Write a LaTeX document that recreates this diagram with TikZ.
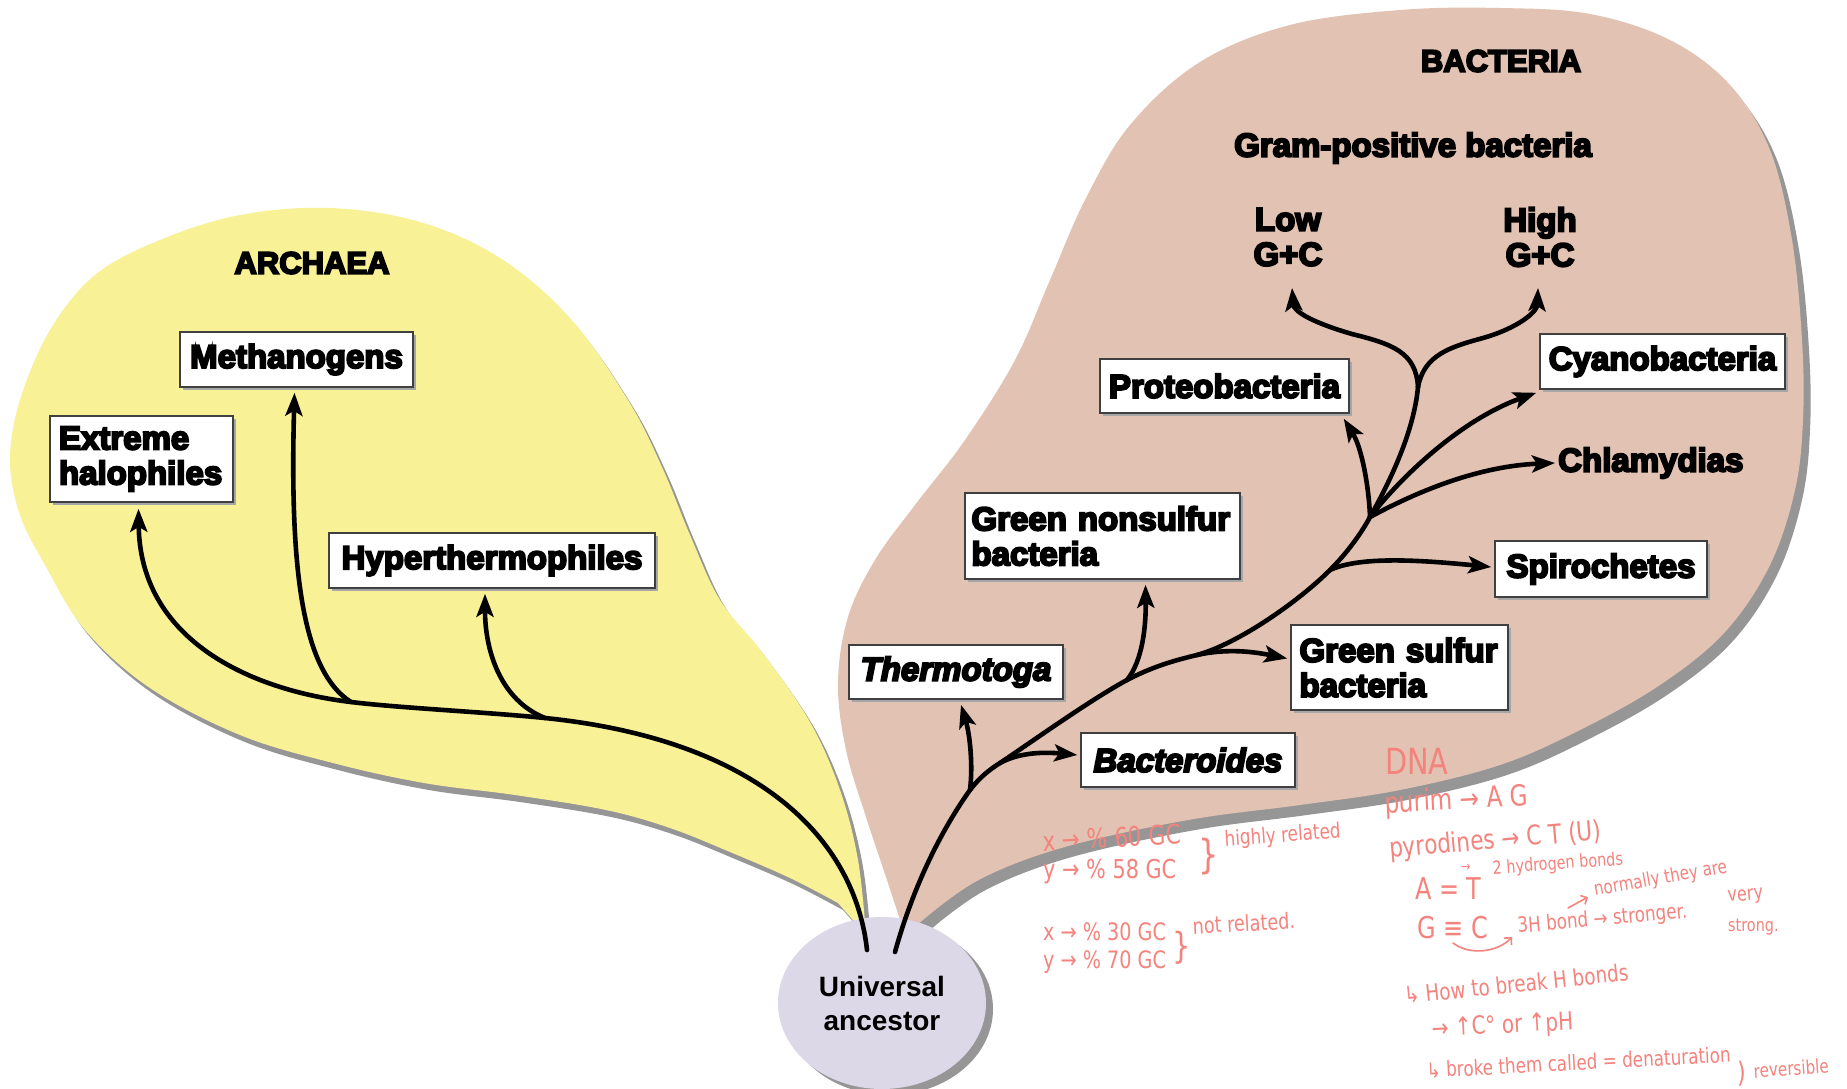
\documentclass[tikz,border=0pt]{standalone}
\usepackage{fontspec}
\usetikzlibrary{arrows.meta,calc,shapes.geometric,shadows}

\newfontfamily\heavysans{Liberation Sans}[UprightFont={* Bold}, ItalicFont={* Bold Italic}, FakeBold=6]
\newfontfamily\plainsans{Liberation Sans}
\newfontfamily\handfont{DejaVu Sans}[FakeStretch=0.8]

\definecolor{archaeafill}{RGB}{249,241,150}
\definecolor{bacteriafill}{RGB}{226,194,178}
\definecolor{ancestorfill}{RGB}{221,216,232}
\definecolor{lobeshadow}{RGB}{150,150,150}
\definecolor{ink}{RGB}{244,131,125}

\newcommand\boxfont{\heavysans\fontsize{33}{35}\selectfont}
\newcommand\domainfont{\heavysans\fontsize{31}{33}\selectfont}
\newcommand\ancestorfont{\plainsans\bfseries\fontsize{28}{34}\selectfont}

% outline of the Archaea lobe
\newcommand\archaealobe[1]{%
  \fill[#1] plot[smooth, tension=0.6] coordinates {
    (866,935) (858,860) (840,790) (810,722) (762,652) (720,600) (690,535)
    (662,467) (628,400) (570,318) (500,258) (420,222) (330,208) (240,215)
    (160,240) (95,275) (50,330) (20,400) (10,460) (20,515) (45,565) (85,630)
    (150,688) (240,735) (333,763) (424,783) (515,795) (606,810) (670,828)
    (730,852) (790,878) (838,903)} -- cycle;}

% outline of the Bacteria lobe
\newcommand\bacterialobe[1]{%
  \fill[#1] plot[smooth, tension=0.6] coordinates {
    (905,935) (887,880) (866,817) (846,750) (838,683) (848,617) (875,560)
    (915,505) (965,440) (1015,360) (1050,280) (1085,200) (1130,125)
    (1200,62) (1290,25) (1400,10) (1500,8) (1590,14) (1670,40) (1730,85)
    (1770,150) (1792,240) (1802,340) (1803,420) (1795,490) (1770,565)
    (1725,632) (1660,685) (1580,730) (1500,765) (1400,790) (1300,805)
    (1200,818) (1100,838) (1030,858) (975,882) (935,910)} -- cycle;}

\begin{document}
\begin{tikzpicture}[x=1pt,y=-1pt,
  limb/.style={line width=4.6pt, line cap=round, black},
  arrowed/.style={limb, -{Stealth[length=23pt,width=17pt,inset=5pt]}},
  taxon/.style={draw=black!75, line width=1.5pt, fill=white, inner sep=0pt,
    font=\boxfont,
    general shadow={fill=black!35, shadow xshift=2.5pt, shadow yshift=-2.5pt}},
  plainlabel/.style={font=\boxfont, inner sep=0pt},
  domaintitle/.style={font=\domainfont, inner sep=0pt},
  note/.style={text=ink, inner sep=0pt, anchor=base west,
    font={\handfont\fontsize{#1}{#1}\selectfont}},
  note/.default=20,
  inkline/.style={draw=ink, line width=1.6pt, line cap=round},
]
\useasboundingbox (0,0) rectangle (1847,1088);
\fill[white] (0,0) rectangle (1847,1088);

% lobes with their grey shadows
\archaealobe{lobeshadow, shift={(5,7)}}
\bacterialobe{lobeshadow, shift={(7,10)}}
\archaealobe{archaeafill}
\bacterialobe{bacteriafill}

% universal ancestor
\node[ellipse, fill=ancestorfill, minimum width=208, minimum height=172,
      inner sep=0pt, align=center, font=\ancestorfont,
      general shadow={fill=lobeshadow, shadow xshift=7pt, shadow yshift=-6pt}]
      (anc) at (882,1003) {Universal\\ancestor};

% domain titles and group labels
\node[domaintitle] (archaea) at (312,263) {ARCHAEA};
\node[domaintitle] (bacteria) at (1501,61) {BACTERIA};
\node[plainlabel] (gram) at (1413,148) {Gram-positive bacteria};
\node[plainlabel, align=center] (low) at (1288,237) {Low\\G+C};
\node[plainlabel, align=center] (high) at (1540,237) {High\\G+C};
\node[plainlabel, anchor=west] (chla) at (1558,463) {Chlamydias};

% taxon boxes
\node[taxon, minimum width=183, minimum height=86, text width=165, align=left]
  (hal) at (141.5,459) {Extreme\\halophiles};
\node[taxon, minimum width=233, minimum height=55] (meth) at (296.5,359.5) {Methanogens};
\node[taxon, minimum width=326, minimum height=55] (hyp) at (492,560.5) {Hyperthermophiles};
\node[taxon, minimum width=249, minimum height=54] (proteo) at (1224.5,386) {Proteobacteria};
\node[taxon, minimum width=245, minimum height=55] (cyano) at (1662.5,361.5) {Cyanobacteria};
\node[taxon, minimum width=275, minimum height=86, text width=262, align=left]
  (gn) at (1102.5,536) {Green nonsulfur\\bacteria};
\node[taxon, minimum width=212, minimum height=56] (spiro) at (1601,569) {Spirochetes};
\node[taxon, minimum width=217, minimum height=85, text width=200, align=left]
  (gs) at (1399.5,667.5) {Green sulfur\\bacteria};
\node[taxon, minimum width=214, minimum height=54] (thermo) at (956,672) {\itshape Thermotoga};
\node[taxon, minimum width=214, minimum height=54] (bact) at (1188,760) {\itshape Bacteroides};

% branch points
\coordinate (aBase) at (867,950);
\coordinate (jH) at (545,718);
\coordinate (jM) at (351,702);
\coordinate (bBase) at (895,952);
\coordinate (jT) at (970,790);
\coordinate (jBd) at (1000,763);
\coordinate (jGN) at (1127,680);
\coordinate (jGS) at (1197,655);
\coordinate (jSp) at (1330,570);
\coordinate (hub) at (1370,517);
\coordinate (fork) at (1418,387);

% Archaea tree
\draw[arrowed] (aBase) .. controls (855,840) and (760,740) .. (jH)
  .. controls (485,712) and (400,708) .. (jM)
  .. controls (250,690) and (140,640) .. ($(hal.south)+(-3,6)$);
\draw[arrowed] (jM) .. controls (300,670) and (290,560) .. ($(meth.south)+(-2,5)$);
\draw[arrowed] (jH) .. controls (500,700) and (485,650) .. ($(hyp.south)+(-7,5)$);

% Bacteria tree
\draw[limb] (bBase) .. controls (915,880) and (945,825) .. (jT)
  .. controls (980,777) and (989,770) .. (jBd)
  .. controls (1030,743) and (1090,700) .. (jGN)
  .. controls (1152,667) and (1172,661) .. (jGS)
  .. controls (1240,643) and (1300,600) .. (jSp)
  .. controls (1348,552) and (1362,532) .. (hub);
\draw[arrowed] (jT) .. controls (973,765) and (970,735) .. ($(thermo.south)+(5,5)$);
\draw[arrowed] (jBd) .. controls (1020,752) and (1045,752) .. ($(bact.west)+(-3,-5)$);
\draw[arrowed] (jGN) .. controls (1143,660) and (1146,625) .. ($(gn.south)+(43,5)$);
\draw[arrowed] (jGS) .. controls (1228,648) and (1255,652) .. ($(gs.west)+(-3,-9)$);
\draw[arrowed] (jSp) .. controls (1360,556) and (1420,560) .. ($(spiro.west)+(-3,-2)$);
\draw[arrowed] (hub) .. controls (1420,490) and (1480,466) .. ($(chla.west)+(-3,0)$);
\draw[arrowed] (hub) .. controls (1400,478) and (1460,420) .. ($(cyano.south west)+(-3,3)$);
\draw[arrowed] (hub) .. controls (1369,488) and (1362,448) .. ($(proteo.south east)+(-6,5)$);
\draw[limb] (hub) .. controls (1392,478) and (1414,430) .. (fork);
\draw[arrowed] (fork) .. controls (1416,352) and (1392,344) .. (1352,334)
  .. controls (1314,323) and (1294,312) .. ($(low.center)+(4,51)$);
\draw[arrowed] (fork) .. controls (1424,355) and (1450,347) .. (1483,338)
  .. controls (1518,328) and (1537,312) .. ($(high.center)+(-2,51)$);

% handwritten notes: G+C content
\node[note=27, rotate=3] (gc1) at (1043,851) {x → \% 60 GC};
\node[note=26] (gc2) at (1043,878) {y → \% 58 GC};
\node[note=40] (br1) at (1198,868) {\}};
\node[note=21, rotate=4] (rel1) at (1225,846) {highly related};
\node[note=24] (gc3) at (1043,940) {x → \% 30 GC};
\node[note=24] (gc4) at (1043,968) {y → \% 70 GC};
\node[note=36] (br2) at (1172,958) {\}};
\node[note=22, rotate=3] (rel2) at (1193,934) {not related.};

% handwritten notes: DNA
\node[note=36] (dna) at (1385,774) {DNA};
\node[note=29, rotate=3] (pur) at (1385,813) {purim → A G};
\node[note=27, rotate=5] (pyr) at (1390,858) {pyrodines → C T (U)};
\node[note=30] (at) at (1415,899) {A = T};
\node[note=14] (atarrow) at (1461,871) {→};
\node[note=18, rotate=4] (hb2) at (1493,874) {2 hydrogen bonds};
\node[note=30] (gc) at (1417,938) {G ≡ C};
\draw[inkline, -{Straight Barb[length=5pt]}] (1453,943) .. controls (1470,956) and (1498,952) .. (1512,937);
\node[note=21, rotate=5] (hb3) at (1518,933) {3H bond → stronger.};
\draw[inkline, -{Straight Barb[length=5pt]}] (1568,908) -- (1588,897);
\node[note=19, rotate=10] (norm) at (1595,896) {normally they are};
\node[note=20, rotate=5] (very) at (1728,902) {very};
\node[note=18] (strong) at (1728,931) {strong.};
\node[note=23, rotate=6] (how) at (1405,1004) {↳ How to break H bonds};
\node[note=25, rotate=3] (temp) at (1432,1037) {→ ↑C° or ↑pH};
\node[note=21, rotate=3] (den) at (1427,1078) {↳ broke them called = denaturation};
\node[note=28] (par) at (1737,1082) {)};
\node[note=19, rotate=4] (rev) at (1754,1078) {reversible};
\end{tikzpicture}
\end{document}
